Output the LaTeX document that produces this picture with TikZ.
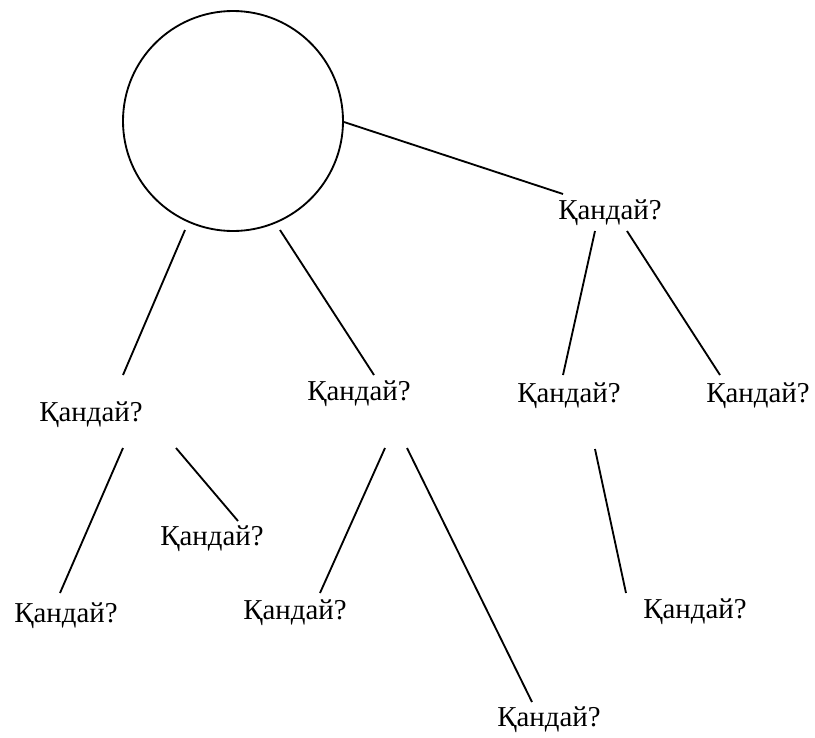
\documentclass[tikz,border=0pt]{standalone}
\usepackage{fontspec}
\setmainfont{Liberation Serif}
\usepackage{tikz}

\begin{document}
\begin{tikzpicture}[line width=1.05pt, word/.style={inner sep=0pt, font=\fontsize{16.4}{19}\selectfont}]
  \useasboundingbox (0,0) rectangle (16.3,-14.74);
  % Root
  \node[draw, circle, minimum size=4.4cm] (root) at (4.66,-2.42) {};

  % Questions
  \foreach \n/\x/\y in {q1/12.2/-4.26, q2/1.82/-8.3, q3/7.18/-7.88, q4/11.38/-7.92,
      q5/15.16/-7.92, q6/4.24/-10.78, q7/1.32/-12.32, q8/5.9/-12.26,
      q9/10.98/-14.4, q10/13.9/-12.24}{
    \node[word] (\n) at (\x,\y) {Қандай?};
  }

  % Line ends
  \foreach \i/\sx/\sy/\fx/\fy in {1/6.88/-2.44/11.26/-3.88, 2/3.70/-4.60/2.46/-7.50,
      3/5.60/-4.60/7.48/-7.50, 4/11.90/-4.62/11.26/-7.50, 5/12.54/-4.62/14.40/-7.50,
      6/2.46/-8.96/1.20/-11.86, 7/3.52/-8.96/4.76/-10.42, 8/7.70/-8.96/6.40/-11.86,
      9/8.14/-8.96/10.64/-14.04, 10/11.90/-8.98/12.52/-11.86}{
    \coordinate (s\i) at (\sx,\sy);
    \coordinate (f\i) at (\fx,\fy);
  }

  % Lines
  \foreach \i in {1,...,10}{
    \draw (s\i) -- (f\i);
  }
\end{tikzpicture}
\end{document}
